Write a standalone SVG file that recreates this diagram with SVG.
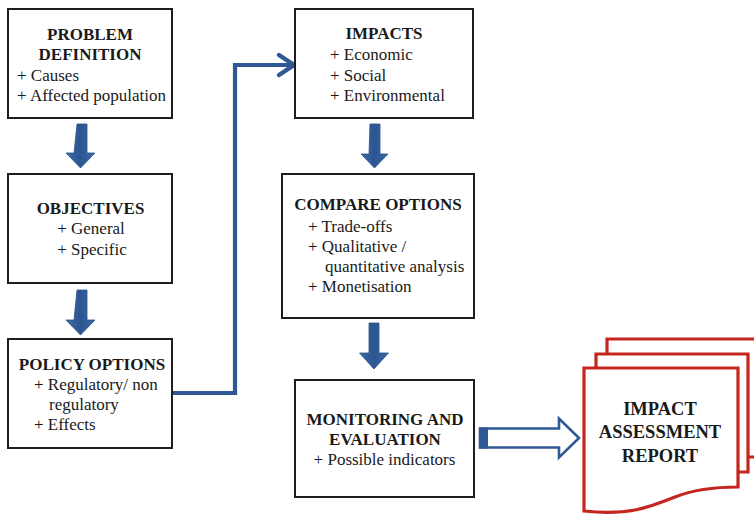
<svg xmlns="http://www.w3.org/2000/svg" width="754" height="514" viewBox="0 0 754 514">
<defs>
<linearGradient id="blk" x1="0" x2="1" y1="0" y2="0">
<stop offset="0" stop-color="#3B6BA8"/>
<stop offset="0.5" stop-color="#2B5590"/>
<stop offset="1" stop-color="#3B6BA8"/>
</linearGradient>
<style>
.box{fill:#fff;stroke:#1e1e1e;stroke-width:2}
.t{font-family:"Liberation Serif","Times New Roman",serif;font-size:17px;fill:#1a1a1a}
.b{font-weight:bold}
.c{text-anchor:middle}
.down{fill:url(#blk);stroke:#2A5088;stroke-width:0.8}
.page{fill:#fff;stroke:#C4261F;stroke-width:3.2;stroke-linejoin:miter}
.rt{font-family:"Liberation Serif","Times New Roman",serif;font-size:18.5px;font-weight:bold;fill:#1a1a1a;text-anchor:middle}
</style>
</defs>
<g id="connectors">
<path d="M77,124 h10 v29 h8 l-14.5,15 l-14.5,-15 h8 z" class="down"/>
<path d="M77,290 h10 v30 h8 l-14.5,15 l-14.5,-15 h8 z" class="down"/>
<path d="M370,124 h10 v30 h8 l-13.5,14 l-13.5,-14 h8 z" class="down"/>
<path d="M369,323 h10 v30 h9.5 l-14.5,16 l-14.5,-16 h9.5 z" class="down"/>
<path d="M172,393 H235 V65 H292" fill="none" stroke="#2F5895" stroke-width="4.2"/>
<path d="M279,55 L294,65 L279,75" fill="none" stroke="#2F5895" stroke-width="4.5" stroke-linecap="round" stroke-linejoin="miter"/>
<path d="M480,428.5 H559 V418.5 L579,438 L559,457.5 V447.5 H480 Z" fill="#fff" stroke="#2F5895" stroke-width="2.6"/>
<rect x="479" y="427.5" width="9" height="21" fill="#2F5895"/>
</g>
<g id="problem">
<rect class="box" x="8" y="9" width="164" height="109"/>
<text class="t b c" x="90" y="40">PROBLEM</text>
<text class="t b c" x="90" y="60">DEFINITION</text>
<text class="t" x="17" y="81">+ Causes</text>
<text class="t" x="17" y="101">+ Affected population</text>
</g>
<g id="objectives">
<rect class="box" x="8" y="174" width="164" height="109"/>
<text class="t b c" x="90.5" y="214">OBJECTIVES</text>
<text class="t c" x="91" y="234">+ General</text>
<text class="t c" x="92" y="255">+ Specific</text>
</g>
<g id="policy">
<rect class="box" x="8" y="339" width="164" height="109"/>
<text class="t b c" x="92" y="370">POLICY OPTIONS</text>
<text class="t" x="34" y="390">+ Regulatory/ non</text>
<text class="t" x="49" y="410">regulatory</text>
<text class="t" x="34" y="430">+ Effects</text>
</g>
<g id="impacts">
<rect class="box" x="295" y="9" width="178" height="109"/>
<text class="t b c" x="384" y="39">IMPACTS</text>
<text class="t" x="330" y="60">+ Economic</text>
<text class="t" x="330" y="81">+ Social</text>
<text class="t" x="330" y="101">+ Environmental</text>
</g>
<g id="compare">
<rect class="box" x="282" y="174" width="192" height="144"/>
<text class="t b c" x="378" y="210">COMPARE OPTIONS</text>
<text class="t" x="308" y="232">+ Trade-offs</text>
<text class="t" x="308" y="252">+ Qualitative /</text>
<text class="t" x="325" y="272">quantitative analysis</text>
<text class="t" x="308" y="292">+ Monetisation</text>
</g>
<g id="monitoring">
<rect class="box" x="295" y="380" width="179" height="117"/>
<text class="t b c" x="385" y="425">MONITORING AND</text>
<text class="t b c" x="385" y="445">EVALUATION</text>
<text class="t c" x="384.5" y="465">+ Possible indicators</text>
</g>
<g id="report">
<path class="page" d="M607,457 V339 H758 V457 Z"/>
<path class="page" d="M596,472 V354 H748 V472 H738"/>
<path class="page" d="M584,511 V368 H738 V487 C715,487 695,489 675,497 C650,507 628,516 584,511 Z"/>
<text class="rt" x="660" y="415">IMPACT</text>
<text class="rt" x="660" y="438">ASSESSMENT</text>
<text class="rt" x="660" y="462">REPORT</text>
</g>
</svg>
